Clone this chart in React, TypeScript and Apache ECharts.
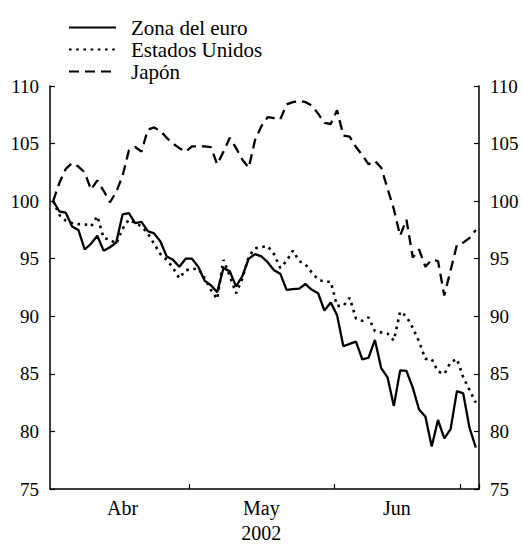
import React, { useEffect, useRef } from "react";
import * as echarts from "echarts";

// Business days from 1 April 2002 (68 observations)
function businessDays(y: number, m: number, d: number, count: number): string[] {
  const out: string[] = [];
  const dt = new Date(Date.UTC(y, m - 1, d));
  while (out.length < count) {
    const wd = dt.getUTCDay();
    if (wd !== 0 && wd !== 6) out.push(dt.toISOString().slice(0, 10));
    dt.setUTCDate(dt.getUTCDate() + 1);
  }
  return out;
}

const categories = businessDays(2002, 4, 1, 68);

const euroArea = [
  100.0, 99.1, 99.0, 97.8, 97.5, 95.8, 96.3, 97.0, 95.7, 96.0,
  96.4, 98.85, 98.95, 98.1, 98.2, 97.4, 97.2, 96.5, 95.2, 94.9,
  94.3, 95.0, 95.0, 94.3, 93.1, 92.7, 92.1, 94.2, 93.9, 92.6,
  93.5, 95.0, 95.4, 95.2, 94.7, 94.0, 93.7, 92.3, 92.35, 92.4,
  92.8, 92.3, 92.0, 90.5, 91.2, 90.1, 87.4, 87.6, 87.8, 86.25,
  86.4, 87.95, 85.5, 84.7, 82.2, 85.3, 85.25, 83.8, 81.9, 81.3,
  78.7, 81.0, 79.4, 80.2, 83.5, 83.3, 80.3, 78.6,
];

const unitedStates = [
  100.0, 98.8, 98.3, 98.1, 98.0, 98.0, 97.8, 98.7, 96.8, 96.65,
  96.3, 97.6, 98.4, 98.1, 97.8, 97.2, 96.3, 95.4, 94.9, 94.2,
  93.3, 94.0, 94.1, 94.15, 93.3, 92.3, 91.5, 94.9, 93.5, 92.0,
  93.3, 95.2, 95.9, 96.0, 96.1, 95.4, 94.2, 94.8, 95.7, 94.8,
  94.5, 93.8, 93.2, 93.0, 93.0, 90.9, 90.9, 91.6, 89.8, 89.6,
  89.9, 88.7, 88.6, 88.5, 87.9, 90.4, 90.0, 89.0, 87.8, 86.3,
  86.3, 85.2, 85.0, 86.0, 86.3, 84.7, 83.6, 82.5,
];

const japan = [
  100.0, 101.6, 102.8, 103.3, 103.0, 102.5, 101.0, 101.8, 100.9, 99.9,
  100.8, 102.2, 104.4, 104.7, 104.3, 106.2, 106.4, 106.1, 105.5, 105.0,
  104.6, 104.3, 104.75, 104.75, 104.75, 104.7, 103.2, 104.3, 105.5, 104.6,
  103.6, 102.9, 105.3, 106.5, 107.3, 107.2, 107.1, 108.4, 108.6, 108.7,
  108.6, 108.3, 107.6, 106.8, 106.7, 107.9, 105.7, 105.6, 104.7, 104.0,
  103.2, 103.5, 102.9, 101.1, 99.3, 97.0, 98.4, 95.1, 95.8, 94.3,
  94.9, 94.8, 91.8, 94.0, 96.2, 96.4, 96.8, 97.5,
];

const seriesNames = ["Zona del euro", "Estados Unidos", "Japón"];
const monthLabels = ["Abr", "May", "Jun"];
const monthLabelIndex = [11, 33, 54];
const yearLabel = "2002";
const monthStartIndex = [22, 45, 65];

const FONT = "Liberation Serif, serif";

export default function App() {
  const ref = useRef<HTMLDivElement>(null);

  useEffect(() => {
    if (!ref.current) return;
    const chart = echarts.init(ref.current, undefined, { renderer: "svg" });

    const yAxisBase = {
      type: "value",
      min: 75,
      max: 110,
      interval: 5,
      splitLine: { show: false },
      axisLine: { show: true, lineStyle: { color: "#000", width: 1.5 } },
      axisTick: { show: true, inside: true, length: 5, lineStyle: { color: "#000", width: 1.2 } },
      axisLabel: { color: "#000", fontFamily: FONT, fontSize: 19, margin: 11 },
    };

    chart.setOption({
      animation: false,
      backgroundColor: "#fff",
      textStyle: { fontFamily: FONT, color: "#000" },
      legend: {
        show: true,
        orient: "vertical",
        left: 63,
        top: 12,
        itemWidth: 47,
        itemHeight: 14,
        itemGap: 1,
        data: seriesNames,
        itemStyle: { opacity: 0, color: "rgba(0,0,0,0)", borderWidth: 0 },
        textStyle: { fontFamily: FONT, fontSize: 21, color: "#000", padding: [0, 0, 0, 10] },
      },
      grid: { left: 50, right: 44, top: 86, bottom: 47, containLabel: false },
      xAxis: {
        type: "category",
        data: categories,
        boundaryGap: true,
        axisLine: { show: true, lineStyle: { color: "#000", width: 1.5 } },
        axisTick: {
          show: true,
          inside: true,
          length: 5,
          alignWithLabel: false,
          interval: (i: number) => monthStartIndex.includes(i),
          lineStyle: { color: "#000", width: 1.2 },
        },
        axisLabel: {
          show: true,
          interval: (i: number) => monthLabelIndex.includes(i),
          margin: 6,
          color: "#000",
          fontFamily: FONT,
          fontSize: 20,
          lineHeight: 25,
          formatter: (_v: string, i: number) => {
            const m = monthLabelIndex.indexOf(i);
            if (m < 0) return "";
            if (m === 1) return monthLabels[m] + "\n" + yearLabel;
            if (m === 2) return "{j|" + monthLabels[m] + "}";
            return monthLabels[m];
          },
          rich: {
            j: { fontFamily: FONT, fontSize: 20, color: "#000", padding: [0, 0, 0, 6] },
          },
        },
        splitLine: { show: false },
      },
      yAxis: [
        { ...yAxisBase, position: "left" },
        { ...yAxisBase, position: "right" },
      ],
      series: [
        {
          name: seriesNames[0],
          type: "line",
          data: euroArea,
          symbol: "none",
          color: "#000",
          lineStyle: { color: "#000", width: 2.3, type: "solid" },
        },
        {
          name: seriesNames[1],
          type: "line",
          data: unitedStates,
          symbol: "none",
          color: "#000",
          lineStyle: { color: "#000", width: 2.6, type: [2.6, 4.6] },
        },
        {
          name: seriesNames[2],
          type: "line",
          data: japan,
          symbol: "none",
          color: "#000",
          lineStyle: { color: "#000", width: 2.3, type: [10, 6] },
        },
      ],
    });

    return () => chart.dispose();
  }, []);

  return <div ref={ref} style={{ width: 523, height: 545, position: "absolute", left: 0, top: 0 }} />;
}
